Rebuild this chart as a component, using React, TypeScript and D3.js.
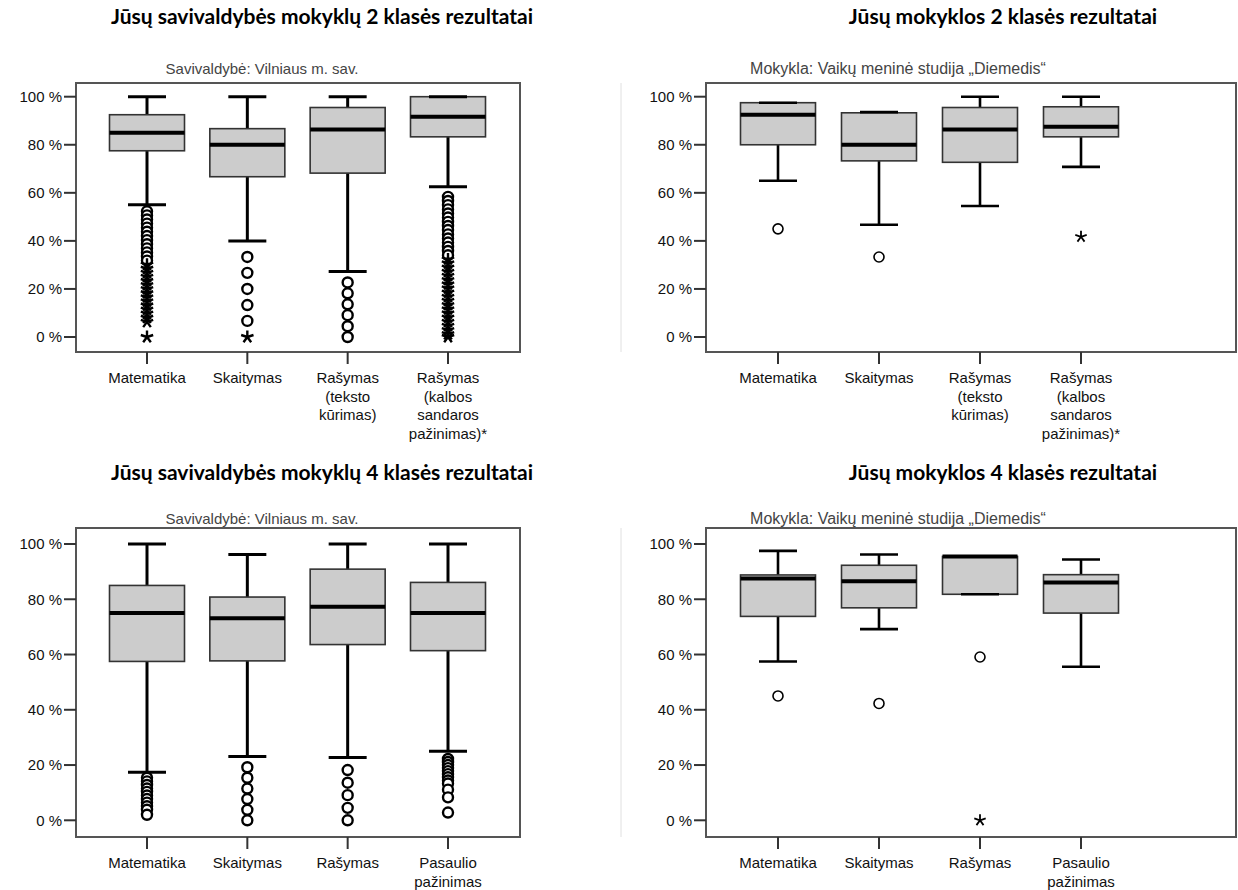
import React from "react";
import * as d3 from "d3";

// ---------- DATA ----------
const cats2 = ["Matematika", "Skaitymas", "Rašymas\n(teksto\nkūrimas)", "Rašymas\n(kalbos\nsandaros\npažinimas)*"];
const cats4 = ["Matematika", "Skaitymas", "Rašymas", "Pasaulio\npažinimas"];
const yTicks = [0, 20, 40, 60, 80, 100];

const titles = [
  "Jūsų savivaldybės mokyklų 2 klasės rezultatai",
  "Jūsų mokyklos 2 klasės rezultatai",
  "Jūsų savivaldybės mokyklų 4 klasės rezultatai",
  "Jūsų mokyklos 4 klasės rezultatai",
];
const subtitles = [
  "Savivaldybė: Vilniaus m. sav.",
  "Mokykla: Vaikų meninė studija „Diemedis“",
  "Savivaldybė: Vilniaus m. sav.",
  "Mokykla: Vaikų meninė studija „Diemedis“",
];

// Savivaldybė, 2 klasė
const sav2Lower = [55, 40, 27.3, 62.5];
const sav2Q1 = [77.5, 66.7, 68.2, 83.3];
const sav2Median = [85, 80, 86.4, 91.7];
const sav2Q3 = [92.5, 86.7, 95.5, 100];
const sav2Upper = [100, 100, 100, 100];
const sav2Circles = [
  [52.3, 50.6, 48.9, 47.2, 45.5, 43.8, 42.0, 40.3, 38.6, 36.9, 35.2, 33.5, 31.8],
  [33.3, 26.7, 20, 13.3, 6.7],
  [22.7, 18.2, 13.6, 9.1, 4.5, 0],
  [58.3, 56.6, 54.9, 53.1, 51.4, 49.7, 47.9, 46.2, 44.5, 42.7, 41.0, 39.3, 37.5, 35.8, 34.0],
];
const sav2Stars = [
  [30.1, 28.4, 26.7, 25, 23.3, 21.6, 19.9, 18.2, 16.5, 14.8, 13.1, 11.4, 9.7, 8.0, 6.3, 0],
  [0],
  [],
  [32.3, 30.6, 28.9, 27.1, 25.4, 23.7, 21.9, 20.2, 18.5, 16.7, 15, 13.3, 11.5, 9.8, 8.1, 6.3, 4.6, 2.9, 1.2, 0],
];

// Mokykla, 2 klasė
const mok2Lower = [65, 46.7, 54.5, 70.8];
const mok2Q1 = [80, 73.3, 72.7, 83.3];
const mok2Median = [92.5, 80, 86.4, 87.5];
const mok2Q3 = [97.5, 93.3, 95.5, 95.8];
const mok2Upper = [97.5, 93.6, 100, 100];
const mok2Circles = [[45], [33.3], [], []];
const mok2Stars = [[], [], [], [41.7]];

// Savivaldybė, 4 klasė
const sav4Lower = [17.4, 23.1, 22.7, 25];
const sav4Q1 = [57.5, 57.7, 63.6, 61.4];
const sav4Median = [75, 73.1, 77.3, 75];
const sav4Q3 = [85, 80.8, 90.9, 86.1];
const sav4Upper = [100, 96.2, 100, 100];
const sav4Circles = [
  [15.4, 14.1, 12.8, 11.5, 10.3, 9.0, 7.7, 6.4, 5.1, 3.8, 2.0],
  [19.2, 15.4, 11.5, 7.7, 3.8, 0],
  [18.2, 13.6, 9.1, 4.5, 0],
  [22.2, 21.1, 20.0, 18.9, 17.8, 16.7, 15.6, 14.4, 13.3, 11.1, 8.3, 2.8],
];
const sav4Stars = [[], [], [], []];

// Mokykla, 4 klasė
const mok4Lower = [57.5, 69.2, 81.8, 55.6];
const mok4Q1 = [73.8, 76.9, 81.8, 75];
const mok4Median = [87.5, 86.5, 95.5, 86.1];
const mok4Q3 = [88.8, 92.3, 95.5, 88.9];
const mok4Upper = [97.5, 96.2, 95.5, 94.4];
const mok4Circles = [[45], [42.3], [59.1], []];
const mok4Stars = [[], [], [0], []];

// ---------- LAYOUT ----------
type Panel = {
  title: string; subtitle: string; cats: string[];
  lower: number[]; q1: number[]; median: number[]; q3: number[]; upper: number[];
  circles: number[][]; stars: number[][];
  fx0: number; fx1: number; fy0: number; fy1: number;
  yZero: number; yFull: number; cFirst: number; cLast: number;
  titleX: number; titleY: number; subX: number; subY: number; subSize: number;
  bold: boolean;
};

const TOP = { fy0: 83, fy1: 352, yZero: 337, yFull: 96.7, titleY: 24, subY: 74 };
const BOT = { fy0: 528, fy1: 837, yZero: 820.3, yFull: 544, titleY: 480, subY: 524 };
const LEFT = { fx0: 76, fx1: 520, cFirst: 147, cLast: 448, titleX: 322, subX: 262, subSize: 15, bold: true };
const RIGHT = { fx0: 706, fx1: 1236, cFirst: 778, cLast: 1081, titleX: 1003, subX: 898, subSize: 16, bold: false };

const panels: Panel[] = [
  { title: titles[0], subtitle: subtitles[0], cats: cats2, lower: sav2Lower, q1: sav2Q1, median: sav2Median, q3: sav2Q3, upper: sav2Upper, circles: sav2Circles, stars: sav2Stars, ...TOP, ...LEFT },
  { title: titles[1], subtitle: subtitles[1], cats: cats2, lower: mok2Lower, q1: mok2Q1, median: mok2Median, q3: mok2Q3, upper: mok2Upper, circles: mok2Circles, stars: mok2Stars, ...TOP, ...RIGHT },
  { title: titles[2], subtitle: subtitles[2], cats: cats4, lower: sav4Lower, q1: sav4Q1, median: sav4Median, q3: sav4Q3, upper: sav4Upper, circles: sav4Circles, stars: sav4Stars, ...BOT, ...LEFT },
  { title: titles[3], subtitle: subtitles[3], cats: cats4, lower: mok4Lower, q1: mok4Q1, median: mok4Median, q3: mok4Q3, upper: mok4Upper, circles: mok4Circles, stars: mok4Stars, ...BOT, ...RIGHT },
];

const FONT = "'Liberation Sans', Arial, sans-serif";
const TITLE_FONT = "Lato, 'Open Sans', sans-serif";

function starPath(r: number) {
  const parts: string[] = [];
  for (let k = 0; k < 5; k++) {
    const a = -Math.PI / 2 + (k * 2 * Math.PI) / 5;
    parts.push(`M0,0L${(Math.cos(a) * r).toFixed(2)},${(Math.sin(a) * r).toFixed(2)}`);
  }
  return parts.join("");
}

function BoxPanel({ p }: { p: Panel }) {
  const y = d3.scaleLinear().domain([0, 100]).range([p.yZero, p.yFull]);
  const x = d3.scalePoint<string>().domain(p.cats).range([p.cFirst, p.cLast]);
  const boxW = 75;
  const capW = 38;
  const wW = p.bold ? 3 : 2.6;
  const circW = p.bold ? 2.4 : 1.6;
  const starR = p.bold ? 6.5 : 6;
  return (
    <g>
      <text x={p.titleX} y={p.titleY} textAnchor="middle" fontFamily={TITLE_FONT} fontWeight={700} fontSize={21} fill="#000">
        {p.title}
      </text>
      <text x={p.subX} y={p.subY} textAnchor="middle" fontFamily={FONT} fontSize={p.subSize} fill="#444">
        {p.subtitle}
      </text>
      {/* frame */}
      <rect x={p.fx0} y={p.fy0} width={p.fx1 - p.fx0} height={p.fy1 - p.fy0} fill="#fff" stroke="#555" strokeWidth={2} />
      {/* y ticks */}
      {yTicks.map((t) => (
        <g key={t}>
          <line x1={p.fx0 - 12} x2={p.fx0} y1={y(t)} y2={y(t)} stroke="#333" strokeWidth={2} />
          <text x={p.fx0 - 14} y={y(t)} dy="0.36em" textAnchor="end" fontFamily={FONT} fontSize={15} fill="#111">
            {`${t} %`}
          </text>
        </g>
      ))}
      {/* x ticks + labels */}
      {p.cats.map((c) => (
        <g key={c}>
          <line x1={x(c)!} x2={x(c)!} y1={p.fy1} y2={p.fy1 + 12} stroke="#333" strokeWidth={2} />
          <text textAnchor="middle" fontFamily={FONT} fontSize={15} fill="#111">
            {c.split("\n").map((ln, i) => (
              <tspan key={i} x={x(c)!} y={p.fy1 + 31 + i * 18.5}>{ln}</tspan>
            ))}
          </text>
        </g>
      ))}
      {/* boxes */}
      {p.cats.map((c, i) => {
        const cx = x(c)!;
        return (
          <g key={"b" + i}>
            <line x1={cx} x2={cx} y1={y(p.q3[i])} y2={y(p.upper[i])} stroke="#000" strokeWidth={wW} />
            <line x1={cx} x2={cx} y1={y(p.q1[i])} y2={y(p.lower[i])} stroke="#000" strokeWidth={wW} />
            <rect x={cx - boxW / 2} y={y(p.q3[i])} width={boxW} height={y(p.q1[i]) - y(p.q3[i])} fill="#cccccc" stroke="#333" strokeWidth={1.6} />
            <line x1={cx - boxW / 2} x2={cx + boxW / 2} y1={y(p.median[i])} y2={y(p.median[i])} stroke="#000" strokeWidth={4} />
            <line x1={cx - capW / 2} x2={cx + capW / 2} y1={y(p.upper[i])} y2={y(p.upper[i])} stroke="#000" strokeWidth={wW} />
            <line x1={cx - capW / 2} x2={cx + capW / 2} y1={y(p.lower[i])} y2={y(p.lower[i])} stroke="#000" strokeWidth={wW} />
            {p.circles[i].map((v, j) => (
              <circle key={"c" + j} cx={cx} cy={y(v)} r={5} fill="#fff" stroke="#000" strokeWidth={circW} />
            ))}
            {p.stars[i].map((v, j) => (
              <path key={"s" + j} d={starPath(starR)} transform={`translate(${cx},${y(v)})`} stroke="#000" strokeWidth={p.bold ? 2.4 : 1.8} fill="none" />
            ))}
          </g>
        );
      })}
    </g>
  );
}

export default function App() {
  return (
    <svg width={1238} height={890} style={{ position: "absolute", left: 0, top: 0, background: "#fff" }}>
      <rect x={0} y={0} width={1238} height={890} fill="#fff" />
      <line x1={621} x2={621} y1={83} y2={352} stroke="#e0e0e0" strokeWidth={1} />
      <line x1={621} x2={621} y1={528} y2={837} stroke="#e0e0e0" strokeWidth={1} />
      {panels.map((p, i) => (
        <BoxPanel key={i} p={p} />
      ))}
    </svg>
  );
}
